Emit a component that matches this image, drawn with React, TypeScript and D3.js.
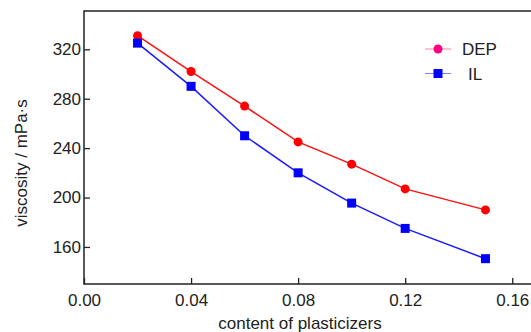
import React, { useRef, useEffect } from "react";
import * as d3 from "d3";

const contents = [0.02, 0.04, 0.06, 0.08, 0.1, 0.12, 0.15];
const depValues = [331, 302, 274, 245, 227, 207, 190];
const ilValues = [325, 290, 250, 220, 195.5, 175, 150.5];
const xTicks = [0, 0.04, 0.08, 0.12, 0.16];
const yTicks = [160, 200, 240, 280, 320];
const seriesNames = ["DEP", "IL"];

const width = 531;
const height = 332;
const margin = { top: 11, right: -4, bottom: 48, left: 84 };
const font = "'Liberation Sans', Arial, sans-serif";

const App = () => {
  const svgRef = useRef<SVGSVGElement>(null);

  useEffect(() => {
    const svg = d3.select(svgRef.current);
    svg.selectAll("*").remove();

    const x = d3
      .scaleLinear()
      .domain([0, 0.1685])
      .range([margin.left, width - margin.right]);
    const y = d3
      .scaleLinear()
      .domain([130, 351])
      .range([height - margin.bottom, margin.top]);

    // frame
    svg
      .append("rect")
      .attr("x", margin.left)
      .attr("y", margin.top)
      .attr("width", width - margin.right - margin.left)
      .attr("height", height - margin.bottom - margin.top)
      .attr("fill", "none")
      .attr("stroke", "#222")
      .attr("stroke-width", 1.5);

    // x axis (ticks inside)
    const gx = svg.append("g").attr("transform", `translate(0,${height - margin.bottom})`);
    gx.call(
      d3.axisBottom(x).tickValues(d3.range(0, 0.17, 0.02)).tickSize(-3).tickFormat(() => "")
    );
    gx.call(
      d3.axisBottom(x).tickValues(xTicks).tickSize(-6).tickPadding(10).tickFormat(d3.format(".2f"))
    );
    gx.select(".domain").remove();
    gx.selectAll("line").attr("stroke", "#222").attr("stroke-width", 1.3);
    gx.selectAll("text")
      .attr("font-family", font)
      .attr("font-size", 17)
      .attr("fill", "#222");

    // y axis (ticks inside)
    const gy = svg.append("g").attr("transform", `translate(${margin.left},0)`);
    gy.call(d3.axisLeft(y).tickValues(d3.range(140, 351, 20)).tickSize(-3).tickFormat(() => ""));
    gy.call(d3.axisLeft(y).tickValues(yTicks).tickSize(-6).tickPadding(3));
    gy.select(".domain").remove();
    gy.selectAll("line").attr("stroke", "#222").attr("stroke-width", 1.3);
    gy.selectAll("text")
      .attr("font-family", font)
      .attr("font-size", 17)
      .attr("fill", "#222");

    // axis titles
    svg
      .append("text")
      .attr("x", 300)
      .attr("y", 329)
      .attr("text-anchor", "middle")
      .attr("font-family", font)
      .attr("font-size", 17)
      .attr("fill", "#222")
      .text("content of plasticizers");

    svg
      .append("text")
      .attr("transform", `translate(27,163) rotate(-90)`)
      .attr("text-anchor", "middle")
      .attr("font-family", font)
      .attr("font-size", 17)
      .attr("fill", "#222")
      .text("viscosity / mPa·s");

    const line = d3
      .line<number>()
      .x((_, i) => x(contents[i]))
      .y((d) => y(d));

    // DEP
    svg
      .append("path")
      .datum(depValues)
      .attr("fill", "none")
      .attr("stroke", "#ff1010")
      .attr("stroke-width", 1.5)
      .attr("d", line);
    svg
      .selectAll(".dep")
      .data(depValues)
      .enter()
      .append("circle")
      .attr("cx", (_, i) => x(contents[i]))
      .attr("cy", (d) => y(d))
      .attr("r", 4.5)
      .attr("fill", "#ff0000");

    // IL
    svg
      .append("path")
      .datum(ilValues)
      .attr("fill", "none")
      .attr("stroke", "#1a1aff")
      .attr("stroke-width", 1.5)
      .attr("d", line);
    svg
      .selectAll(".il")
      .data(ilValues)
      .enter()
      .append("rect")
      .attr("x", (_, i) => x(contents[i]) - 4.5)
      .attr("y", (d) => y(d) - 4.5)
      .attr("width", 9)
      .attr("height", 9)
      .attr("fill", "#0000ff");

    // legend
    const legend = svg.append("g");
    const legendColors = ["#ff0080", "#0000ff"];
    const lineColors = ["#ff80b0", "#8080ff"];
    seriesNames.forEach((name, i) => {
      const ly = 49 + i * 24.5;
      legend
        .append("line")
        .attr("x1", 425)
        .attr("x2", 451)
        .attr("y1", ly)
        .attr("y2", ly)
        .attr("stroke", lineColors[i])
        .attr("stroke-width", 1);
      if (i === 0) {
        legend
          .append("circle")
          .attr("cx", 438)
          .attr("cy", ly)
          .attr("r", 4.5)
          .attr("fill", legendColors[i]);
      } else {
        legend
          .append("rect")
          .attr("x", 433.5)
          .attr("y", ly - 4.5)
          .attr("width", 9)
          .attr("height", 9)
          .attr("fill", legendColors[i]);
      }
      legend
        .append("text")
        .attr("x", i === 0 ? 462 : 468)
        .attr("y", ly + 6)
        .attr("font-family", font)
        .attr("font-size", 17)
        .attr("fill", "#222")
        .text(name);
    });
  }, []);

  return (
    <svg
      ref={svgRef}
      width={width}
      height={height}
      style={{ position: "absolute", left: 0, top: 0, background: "#fff" }}
    />
  );
};

export default App;
